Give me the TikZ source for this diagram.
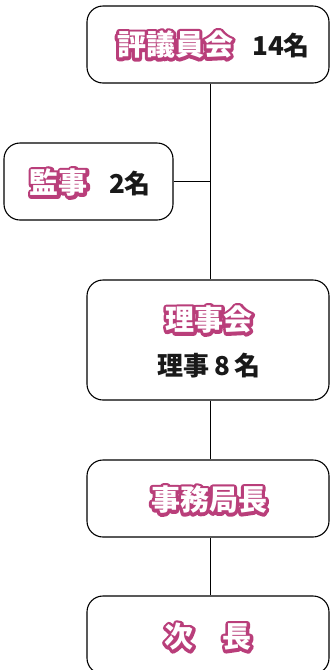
\documentclass[tikz,border=0pt]{standalone}
\usepackage{fontspec}
\newfontfamily\jp{Noto Sans CJK JP}
\usetikzlibrary{calc}
\definecolor{pinkc}{RGB}{185,62,122}
\newcommand\strokeon{\special{pdf:literal direct 2 Tr 6 w 1 j}}
\newcommand\strokeoff{\special{pdf:literal direct 0 Tr}}
\tikzset{
  boxst/.style={draw=black, line width=1.1pt, rounded corners=16pt, fill=white, inner sep=0pt},
  conn/.style={draw=black, line width=0.9pt},
  pinktxt/.style={font=\jp\bfseries\fontsize{29}{31}\selectfont, inner sep=0pt, anchor=center, text=white},
  pinkback/.style={font=\jp\bfseries\fontsize{29}{31}\selectfont, inner sep=0pt, anchor=center, text=pinkc},
  blacktxt/.style={font=\jp\bfseries\fontsize{26}{28}\selectfont, inner sep=0pt, text=black!90},
}
\newcommand\outlined[3]{%
  \node[pinkback] (#1b) at (#2) {\strokeon#3\strokeoff};
  \node[pinktxt] (#1) at (#2) {#3};
}
\begin{document}
\begin{tikzpicture}[x=1pt,y=-1pt]
\useasboundingbox (0,0) rectangle (330,670);
\clip (0,0) rectangle (330,670);
% boxes
\node[boxst, minimum width=242pt, minimum height=77pt] (hyogi) at (208,44.5) {};
\node[boxst, minimum width=169pt, minimum height=77pt] (kanji) at (88.5,181.5) {};
\node[boxst, minimum width=242pt, minimum height=120pt] (riji) at (208,340) {};
\node[boxst, minimum width=242pt, minimum height=77pt] (jimu) at (208,498.5) {};
\node[boxst, minimum width=242pt, minimum height=78pt] (jicho) at (208,635) {};
% connectors
\coordinate (vx) at (210,0);
\draw[conn] (hyogi.south -| vx) -- (riji.north -| vx);
\draw[conn] (kanji.east) -- (kanji.east -| vx);
\draw[conn] (riji.south -| vx) -- (jimu.north -| vx);
\draw[conn] (jimu.south -| vx) -- (jicho.north -| vx);
% texts
\coordinate (p1) at (175,45);
\coordinate (p2) at (59,183);
\coordinate (p3) at (209,320);
\coordinate (p4) at (209,500);
\coordinate (p5) at (208,637);
\outlined{t1}{p1}{評議員会}
\outlined{t2}{p2}{監事}
\outlined{t3}{p3}{理事会}
\outlined{t4}{p4}{事務局長}
\outlined{t5}{p5}{次\hspace{1em}長}
\node[blacktxt] (n1) at (281,46) {14名};
\node[blacktxt] (n2) at (130,184) {2名};
\node[blacktxt] (n3) at (209,366) {理事\,8\,名};
\end{tikzpicture}
\end{document}
